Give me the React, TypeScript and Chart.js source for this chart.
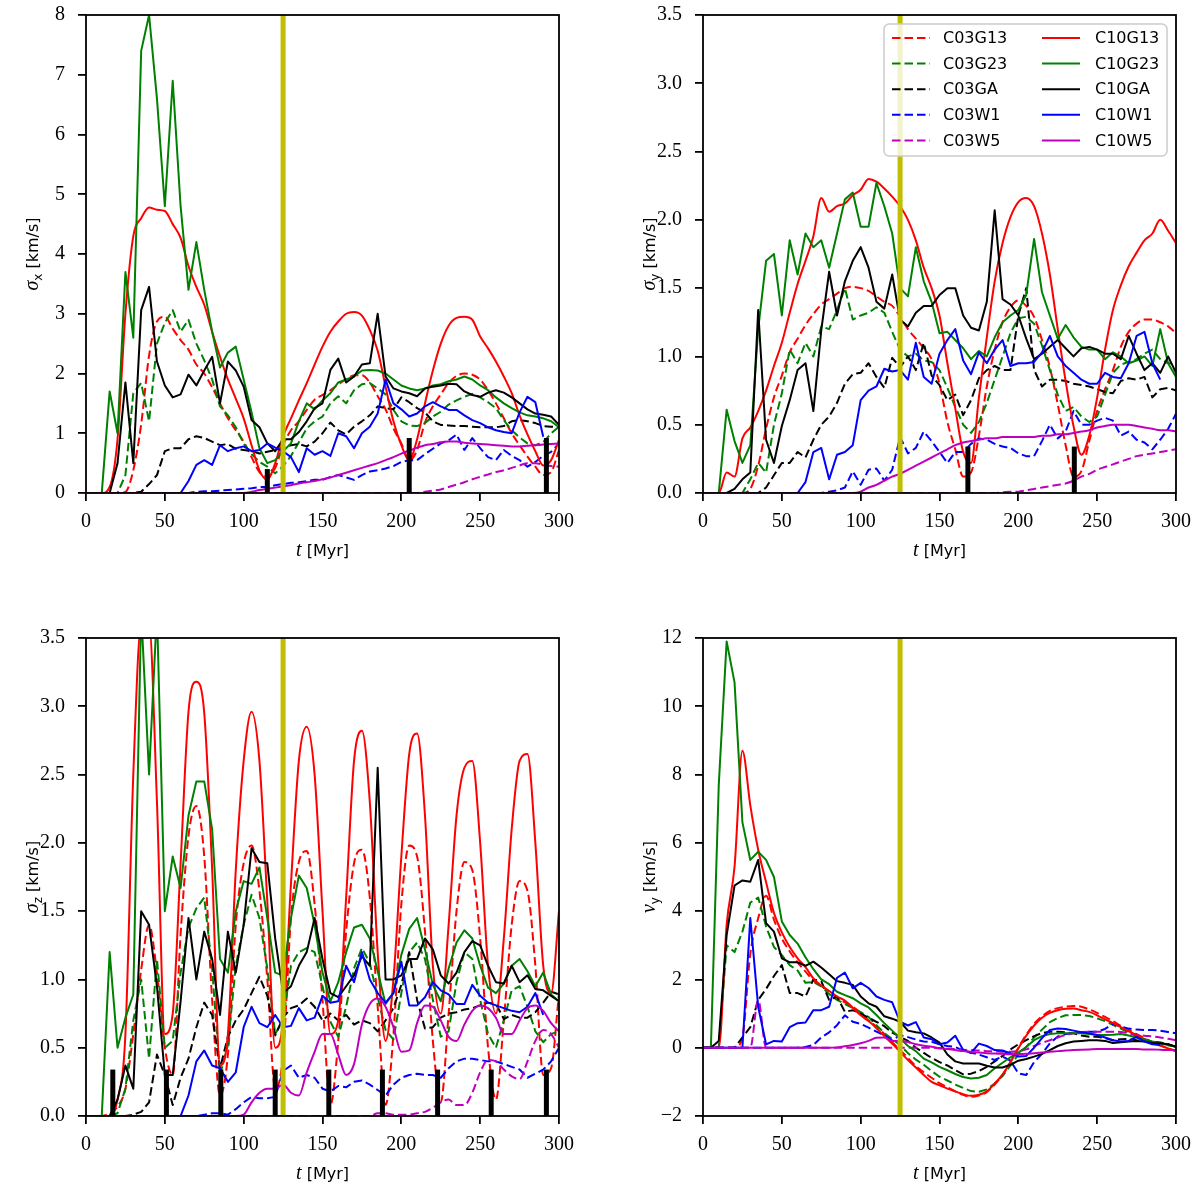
import React, { useEffect, useRef } from 'react';
import { Chart, registerables } from 'chart.js';

Chart.register(...registerables);

document.body.style.margin = '0';

// time grid, Myr
const T = [
  0, 5, 10, 15, 20, 25, 30, 35, 40, 45,
  50, 55, 60, 65, 70, 75, 80, 85, 90, 95,
  100, 105, 110, 115, 120, 125, 130, 135, 140, 145,
  150, 155, 160, 165, 170, 175, 180, 185, 190, 195,
  200, 205, 210, 215, 220, 225, 230, 235, 240, 245,
  250, 255, 260, 265, 270, 275, 280, 285, 290, 295,
  300,
];

const RUNS = ['C03G13', 'C03G23', 'C03GA', 'C03W1', 'C03W5', 'C10G13', 'C10G23', 'C10GA', 'C10W1', 'C10W5'];
const COLORS = ['#ff0000', '#008000', '#000000', '#0000ff', '#bf00bf'];
// runs whose curves are smooth (G13 and W5); the rest are drawn as plain polylines
const SMOOTH = ['C03G13', 'C03W5', 'C10G13', 'C10W5'];
const DASH = [8.5, 4];
const MARK_T = 125;

const SERIF = '"Liberation Serif", "DejaVu Serif", serif';
const SANS = '"DejaVu Sans", sans-serif';

// ---- sigma_x ----
const SX_C03G13 = [
  0, 0, 0, 0, 0, 0.02, 0.38, 1.15, 2.3, 2.87,
  2.95, 2.75, 2.56, 2.4, 2.15, 2.0, 1.77, 1.5, 1.25, 1.05,
  0.86, 0.6, 0.35, 0.27, 0.42, 0.8, 1.05, 1.2, 1.39, 1.56,
  1.64, 1.72, 1.82, 1.9, 1.97, 1.97, 1.85, 1.62, 1.4, 1.08,
  0.83, 0.55, 0.72, 1.18, 1.45, 1.65, 1.84, 1.96, 2.0, 1.98,
  1.9, 1.72, 1.5, 1.25, 1.0, 0.8, 0.61, 0.44, 0.3, 0.35,
  0.72,
];
const SX_C03G23 = [
  0, 0, 0, 0, 0, 0.3, 1.67, 1.84, 1.2, 2.5,
  2.85, 3.06, 2.7, 2.9, 2.5, 2.22, 1.9, 1.45, 1.3, 1.1,
  0.83, 0.65, 0.52, 0.44, 0.33, 0.45, 0.62, 0.85, 1.08, 1.2,
  1.28, 1.5, 1.62, 1.5, 1.72, 1.82, 1.84, 1.75, 1.65, 1.39,
  1.2, 1.13, 1.12, 1.17, 1.28, 1.36, 1.48, 1.55, 1.61, 1.66,
  1.6, 1.52, 1.42, 1.22, 1.05, 0.93, 0.83, 0.8, 0.85, 1.0,
  1.11,
];
const SX_C03GA = [
  0, 0, 0, 0, 0, 0, 0, 0.02, 0.15, 0.3,
  0.7, 0.75, 0.75, 0.9, 0.95, 0.92, 0.86, 0.8, 0.82, 0.74,
  0.72, 0.7, 0.66, 0.69, 0.72, 0.76, 0.8, 0.82, 0.78, 0.86,
  1.0, 1.18, 1.05, 0.98, 1.11, 1.2, 1.3, 1.45, 1.42, 1.4,
  1.6, 1.52, 1.42, 1.35, 1.2, 1.14, 1.13, 1.12, 1.12, 1.11,
  1.1, 1.1, 1.1, 1.12, 1.2, 1.22, 1.2, 1.17, 1.12, 1.11,
  1.11,
];
const SX_C03W1 = [
  0, 0, 0, 0, 0, 0, 0, 0, 0, 0,
  0, 0, 0, 0, 0.02, 0.03, 0.03, 0.04, 0.05, 0.06,
  0.07, 0.08, 0.1, 0.1, 0.13, 0.15, 0.17, 0.18, 0.2, 0.22,
  0.22, 0.27, 0.3, 0.26, 0.22, 0.3, 0.36, 0.38, 0.41, 0.45,
  0.52, 0.55, 0.55, 0.65, 0.74, 0.83, 0.88, 0.98, 0.72, 0.92,
  0.75, 0.6, 0.55, 0.72, 0.62, 0.55, 0.44, 0.52, 0.62, 0.69,
  0.83,
];
const SX_C03W5 = [
  0, 0, 0, 0, 0, 0, 0, 0, 0, 0,
  0, 0, 0, 0, 0, 0, 0, 0, 0, 0,
  0, 0, 0, 0, 0, 0, 0, 0, 0, 0,
  0, 0, 0, 0, 0, 0, 0, 0, 0, 0,
  0, 0, 0, 0.02, 0.04, 0.06, 0.1, 0.14, 0.18, 0.23,
  0.27, 0.31, 0.35, 0.38, 0.42, 0.46, 0.5, 0.5, 0.47, 0.45,
  0.44,
];
const SX_C10G13 = [
  0, 0, 0, 0.1, 0.9, 3.0, 4.3, 4.6, 4.78, 4.74,
  4.72, 4.5, 4.27, 3.8, 3.45, 3.15, 2.7, 2.28, 1.9, 1.58,
  1.25, 0.8, 0.38, 0.22, 0.5, 0.95, 1.25, 1.55, 1.84, 2.15,
  2.45, 2.7, 2.87, 3.0, 3.03, 2.97, 2.73, 2.38, 1.78, 1.2,
  0.8, 0.55, 0.9, 1.5, 2.05, 2.5, 2.8, 2.93, 2.95, 2.9,
  2.62, 2.42, 2.2, 1.95, 1.67, 1.3, 0.98, 0.7, 0.46, 0.55,
  0.89,
];
const SX_C10G23 = [
  0, 0, 0, 1.7, 1.0, 3.7, 2.6, 7.4, 8.0, 6.6,
  4.8, 6.9, 4.8, 3.4, 4.2, 3.4, 2.7, 2.1, 2.35, 2.45,
  1.9, 1.35, 0.75, 0.5, 0.55, 0.7, 0.83, 1.2, 1.5, 1.4,
  1.55, 1.67, 1.85, 1.9, 1.95, 2.05, 2.06, 2.05, 2.0, 1.9,
  1.8, 1.75, 1.72, 1.75, 1.8, 1.82, 1.87, 1.9, 1.95, 1.9,
  1.8, 1.72, 1.6, 1.5, 1.42, 1.35, 1.3, 1.28, 1.25, 1.2,
  1.1,
];
const SX_C10GA = [
  0, 0, 0, 0, 0.5, 1.85, 0.5, 3.06, 3.45, 2.2,
  1.8, 1.6, 1.65, 1.98, 1.8, 2.05, 2.28, 1.5, 2.2, 2.05,
  1.78, 1.22, 1.1, 0.83, 0.7, 0.9, 0.9, 1.02, 1.2, 1.42,
  1.5, 2.06, 2.25, 1.85, 1.95, 2.15, 2.17, 3.0, 1.95, 1.75,
  1.7, 1.67, 1.62, 1.75, 1.78, 1.8, 1.83, 1.82, 1.7, 1.64,
  1.61, 1.68, 1.72, 1.68, 1.6, 1.5, 1.4, 1.33, 1.31, 1.28,
  1.14,
];
const SX_C10W1 = [
  0, 0, 0, 0, 0, 0, 0, 0, 0, 0,
  0, 0, 0, 0.2, 0.47, 0.55, 0.47, 0.8, 0.7, 0.75,
  0.78, 0.7, 0.72, 0.83, 0.76, 0.7, 0.6, 0.35, 0.75, 0.64,
  0.7, 0.62, 1.0, 0.95, 0.75, 1.0, 1.11, 1.33, 1.9, 1.5,
  1.4, 1.28, 1.33, 1.45, 1.52, 1.45, 1.39, 1.39, 1.3, 1.22,
  1.17, 1.1, 1.05, 1.02, 1.0, 1.35, 1.61, 1.52, 0.94, null,
  null,
];
const SX_C10W5 = [
  0, 0, 0, 0, 0, 0, 0, 0, 0, 0,
  0, 0, 0, 0, 0, 0, 0, 0, 0, 0,
  0, 0.02, 0.05, 0.07, 0.09, 0.11, 0.13, 0.16, 0.18, 0.2,
  0.23, 0.26, 0.3, 0.34, 0.38, 0.42, 0.46, 0.5, 0.55, 0.6,
  0.66, 0.71, 0.76, 0.8, 0.82, 0.85, 0.86, 0.86, 0.84, 0.83,
  0.82, 0.81, 0.8, 0.79, 0.78, 0.78, 0.79, 0.8, 0.81, 0.82,
  0.83,
];

// ---- sigma_y ----
const SY_C03G13 = [
  0, 0, 0, 0, 0, 0, 0.03, 0.2, 0.47, 0.7,
  0.86, 1.03, 1.13, 1.23, 1.31, 1.38, 1.42, 1.46, 1.5, 1.51,
  1.5, 1.48, 1.44, 1.4, 1.37, 1.29, 1.2, 1.13, 1.06, 0.98,
  0.8, 0.52, 0.32, 0.12, 0.15, 0.42, 0.78, 1.05, 1.25, 1.36,
  1.41, 1.37, 1.29, 1.12, 0.92, 0.65, 0.35, 0.12, 0.16, 0.38,
  0.6, 0.76, 0.9, 1.07, 1.18, 1.24, 1.27, 1.27, 1.25, 1.22,
  1.17,
];
const SY_C03G23 = [
  0, 0, 0, 0, 0, 0, 0.1, 0.22, 0.15, 0.5,
  0.73, 1.05, 0.95, 1.1, 1.0, 1.22, 1.2, 1.34, 1.5, 1.27,
  1.3, 1.32, 1.36, 1.32, 1.18, 1.05, 1.0, 1.02, 0.97, 0.96,
  0.9, 0.77, 0.63, 0.5, 0.44, 0.52, 0.66, 0.83, 1.0, 1.17,
  1.28, 1.29, 1.24, 1.08, 0.9, 0.72, 0.6, 0.63, 0.56, 0.52,
  0.56, 0.72, 0.88, 0.94, 0.96, 0.98, 1.02, 1.05, 0.98, 0.95,
  0.95,
];
const SY_C03GA = [
  0, 0, 0, 0, 0, 0, 0, 0, 0.04, 0.13,
  0.22, 0.22, 0.3, 0.26, 0.39, 0.5, 0.56, 0.66, 0.8, 0.87,
  0.88, 0.95, 0.85, 0.77, 0.99, 0.92, 1.0, 0.9, 1.1, 0.86,
  0.79, 0.68, 0.72, 0.57, 0.68, 0.84, 0.9, 0.93, 0.9, 0.9,
  1.3, 1.5, 0.9, 0.78, 0.83, 0.83, 0.82, 0.8, 0.79, 0.78,
  0.76, 0.74, 0.73, 0.82, 0.84, 0.83, 0.85, 0.7, 0.76, 0.77,
  0.75,
];
const SY_C03W1 = [
  0, 0, 0, 0, 0, 0, 0, 0, 0, 0,
  0, 0, 0, 0, 0, 0, 0.01, 0.02, 0.04, 0.16,
  0.06, 0.17, 0.18, 0.09, 0.17, 0.41, 0.29, 0.33, 0.45, 0.38,
  0.3, 0.22, 0.3, 0.3, 0.36, 0.4, 0.39, 0.36, 0.34, 0.33,
  0.29, 0.27, 0.27, 0.38, 0.5, 0.4, 0.45, 0.6, 0.5, 0.5,
  0.53, 0.55, 0.53, 0.42, 0.45, 0.39, 0.37, 0.32, 0.39, 0.47,
  0.58,
];
const SY_C03W5 = [
  0, 0, 0, 0, 0, 0, 0, 0, 0, 0,
  0, 0, 0, 0, 0, 0, 0, 0, 0, 0,
  0, 0, 0, 0, 0, 0, 0, 0, 0, 0,
  0, 0, 0, 0, 0, 0, 0, 0, 0.005, 0.01,
  0.01, 0.02, 0.03, 0.04, 0.05, 0.06, 0.07, 0.09, 0.12, 0.14,
  0.17, 0.19, 0.21, 0.23, 0.25, 0.27, 0.28, 0.29, 0.3, 0.31,
  0.32,
];
const SY_C10G13 = [
  0, 0, 0, 0.15, 0.12, 0.4, 0.48, 0.6, 0.75, 0.93,
  1.1, 1.32, 1.53, 1.7, 1.88, 2.16, 2.06, 2.1, 2.12, 2.18,
  2.22, 2.3, 2.28, 2.23, 2.17, 2.1, 2.0, 1.85, 1.65, 1.5,
  1.3, 0.95, 0.62, 0.3, 0.22, 0.7, 1.14, 1.55, 1.83, 2.02,
  2.13, 2.16, 2.1, 1.9, 1.6, 1.2, 0.82, 0.49, 0.28, 0.42,
  0.7, 1.05, 1.34, 1.52, 1.66, 1.76, 1.85, 1.9, 2.0, 1.92,
  1.83,
];
const SY_C10G23 = [
  0, 0, 0, 0.61, 0.38, 0.22, 0.35, 1.2, 1.7, 1.75,
  1.3, 1.85, 1.6, 1.9, 1.8, 1.85, 1.65, 1.9, 2.15, 2.2,
  1.95, 1.95, 2.27, 2.1, 1.9, 1.5, 1.44, 1.8, 1.55, 1.4,
  1.17, 1.18, 1.12, 1.06, 0.98, 1.04, 1.0, 1.14, 1.25, 1.3,
  1.34, 1.45, 1.86, 1.47, 1.3, 1.13, 1.23, 1.14, 1.07, 1.05,
  1.05, 0.98, 1.03, 1.0, 0.95, 0.97, 1.0, 0.93, 1.2, 0.95,
  0.85,
];
const SY_C10GA = [
  0, 0, 0, 0, 0.03, 0.1, 0.15, 1.34, 0.39, 0.22,
  0.49, 0.68, 0.9, 0.95, 0.6, 1.19, 1.62, 1.3, 1.55, 1.7,
  1.8, 1.65, 1.4, 1.35, 1.6, 1.27, 1.22, 1.32, 1.37, 1.37,
  1.45, 1.5, 1.5, 1.3, 1.21, 1.19, 1.4, 2.07, 1.42, 1.38,
  1.3, 1.13, 0.98, 1.02, 1.07, 1.12, 1.06, 1.0, 1.06, 1.07,
  1.05, 1.02, 1.02, 0.98, 1.15, 1.02, 0.9, 0.95, 0.88, 1.0,
  0.88,
];
const SY_C10W1 = [
  0, 0, 0, 0, 0, 0, 0, 0, 0, 0,
  0, 0, 0, 0.08, 0.3, 0.33, 0.1, 0.28, 0.3, 0.35,
  0.68, 0.75, 0.78, 0.91, 0.89, 0.9, 0.83, 1.1, 0.85, 0.8,
  1.02, 1.12, 1.2, 0.97, 0.87, 1.03, 0.95, 1.05, 1.12, 0.93,
  0.95, 0.95, 0.96, 1.03, 1.15, 1.0, 0.93, 0.88, 0.83, 0.8,
  0.8, 0.88, 0.85, 0.84, 0.95, 1.15, 1.18, 0.95, 0.83, null,
  null,
];
const SY_C10W5 = [
  0, 0, 0, 0, 0, 0, 0, 0, 0, 0,
  0, 0, 0, 0, 0, 0, 0, 0, 0, 0,
  0.01, 0.04, 0.06, 0.09, 0.12, 0.14, 0.17, 0.2, 0.23, 0.26,
  0.29, 0.32, 0.35, 0.37, 0.38, 0.39, 0.4, 0.4, 0.41, 0.41,
  0.41, 0.41, 0.41, 0.42, 0.42, 0.43, 0.43, 0.44, 0.45, 0.46,
  0.48, 0.49, 0.5, 0.5, 0.5, 0.49, 0.48, 0.47, 0.46, 0.46,
  0.45,
];

// ---- sigma_z ----
const SZ_C03G13 = [
  0, 0, 0, 0.02, 0.07, 0.2, 0.6, 1.07, 1.4, 1.05,
  0.5, 0.3, 1.33, 2.05, 2.27, 1.9, 0.85, 0.15, 0.45, 1.4,
  1.85, 1.98, 1.65, 1.0, 0.2, 0.45, 1.45, 1.86, 1.94, 1.55,
  0.85, 0.08, 0.55, 1.35, 1.85, 1.95, 1.6, 0.8, 0.08, 0.6,
  1.55, 1.98, 1.9, 1.35, 0.55, 0.1, 0.75, 1.5, 1.86, 1.8,
  1.3, 0.5, 0.12, 0.7, 1.4, 1.72, 1.65, 1.1, 0.3, 0.35,
  0.9,
];
const SZ_C03G23 = [
  0, 0, 0, 0, 0.02, 0.2, 0.7, 1.0, 0.42, 1.15,
  0.5, 0.55, 1.05, 1.38, 1.52, 1.6, 1.08, 0.3, 0.52, 1.1,
  1.4, 1.62, 1.45, 1.08, 0.6, 0.7, 1.1, 1.2, 1.23, 1.2,
  0.95, 0.69, 0.58, 0.8, 1.08, 1.23, 1.12, 0.87, 0.63, 0.56,
  0.9, 1.2, 1.27, 1.15, 0.85, 0.58, 0.62, 0.98, 1.2, 1.15,
  0.85, 0.6, 0.5, 0.7, 0.92, 0.95, 0.8, 0.62, 0.54, 0.6,
  0.62,
];
const SZ_C03GA = [
  0, 0, 0, 0, 0, 0, 0.01, 0.03, 0.1, 0.45,
  0.3, 0.08, 0.28, 0.42, 0.65, 0.83, 0.74, 0.35, 0.58, 0.7,
  0.78, 0.9, 1.02, 0.88, 0.59, 0.72, 0.79, 0.81, 0.86, 0.8,
  0.7, 0.75, 0.7, 0.74, 0.67, 0.7, 0.68, 0.62, 0.7, 0.79,
  0.96, 1.2, 0.85, 0.64, 0.65, 0.72, 0.75, 0.76, 0.78, 0.79,
  0.81, 0.83, 0.82, 0.71, 0.74, 0.72, 0.72, 0.76, 0.83, 0.91,
  0.89,
];
const SZ_C03W1 = [
  0, 0, 0, 0, 0, 0, 0, 0, 0, 0,
  0, 0, 0, 0, 0, 0.01, 0.02, 0.02, 0.01, 0.05,
  0.1, 0.14, 0.13, 0.13, 0.14, 0.33, 0.37, 0.28, 0.3, 0.28,
  0.2, 0.18, 0.22, 0.21, 0.25, 0.26, 0.23, 0.19, 0.15, 0.23,
  0.28, 0.3, 0.31, 0.3, 0.3, 0.28, 0.35, 0.4, 0.42, 0.42,
  0.41, 0.4, 0.4, 0.38, 0.36, 0.34, 0.28, 0.31, 0.34, 0.4,
  0.5,
];
const SZ_C03W5 = [
  0, 0, 0, 0, 0, 0, 0, 0, 0, 0,
  0, 0, 0, 0, 0, 0, 0, 0, 0, 0,
  0, 0, 0, 0, 0, 0, 0, 0, 0, 0,
  0, 0, 0, 0, 0, 0, 0, 0.02, 0.02, 0.01,
  0.01, 0.01, 0.02, 0.03, 0.06, 0.1, 0.12, 0.08, 0.08, 0.17,
  0.32, 0.41, 0.4, 0.34, 0.29, 0.27, 0.4, 0.55, 0.63, 0.6,
  0.5,
];
const SZ_C10G13 = [
  0, 0, 0, 0, 0.12, 0.6, 2.5, 3.6, 3.6, 2.3,
  0.6, 0.75, 1.85, 2.96, 3.18, 2.95, 1.81, 0.37, 0.6, 1.8,
  2.6, 2.96, 2.6, 1.57, 0.5, 0.7, 1.7, 2.6, 2.85, 2.5,
  1.5, 0.6, 0.7, 1.6, 2.6, 2.82, 2.3, 1.2, 0.55, 1.0,
  1.9, 2.65, 2.8, 2.2, 1.1, 0.75, 1.4, 2.2, 2.55, 2.6,
  2.0, 1.1, 0.75, 1.3, 2.1, 2.6, 2.65, 2.0, 1.1, 0.9,
  1.5,
];
const SZ_C10G23 = [
  0, 0, 0, 1.2, 0.5, 0.72, 0.89, 3.7, 2.5, 3.7,
  1.5, 1.9, 1.67, 2.2, 2.45, 2.45, 2.1, 1.15, 1.05, 1.5,
  1.72, 1.7, 1.82, 1.45, 1.05, 1.03, 1.45, 1.76, 1.67, 1.4,
  1.05, 0.84, 0.98, 1.2, 1.38, 1.4, 1.3, 1.06, 0.82, 0.9,
  1.18, 1.37, 1.45, 1.22, 0.96, 0.84, 1.08, 1.27, 1.36, 1.3,
  1.1, 0.94, 0.9, 0.97, 1.1, 1.15, 1.06, 0.95, 1.05, 0.89,
  0.84,
];
const SZ_C10GA = [
  0, 0, 0, 0, 0.12, 0.37, 0.2, 1.5, 1.4, 0.95,
  0.3, 0.3, 0.84, 1.45, 1.0, 1.35, 1.15, 0.74, 1.35, 1.05,
  1.4, 1.96, 1.86, 1.85, 1.3, 0.9, 0.95, 1.1, 1.2, 1.45,
  1.15, 0.9, 0.87, 0.95, 1.03, 1.17, 1.1, 2.55, 1.0, 1.0,
  1.03, 1.15, 1.15, 1.3, 1.22, 1.03, 0.97, 1.05, 1.2, 1.28,
  1.25, 1.1, 0.98, 0.97, 1.1, 0.98, 1.03, 0.93, 0.92, 0.88,
  0.84,
];
const SZ_C10W1 = [
  0, 0, 0, 0, 0, 0, 0, 0, 0, 0,
  0, 0, 0, 0.15, 0.4, 0.48, 0.37, 0.35, 0.25, 0.32,
  0.65, 0.8, 0.68, 0.65, 0.74, 0.65, 0.66, 0.79, 0.7, 0.72,
  0.88, 0.83, 0.84, 1.1, 0.98, 1.2, 1.0, 0.9, 0.83, 0.9,
  1.13, 0.81, 0.81, 0.87, 0.98, 0.92, 0.89, 0.82, 0.82, 0.96,
  0.88, 0.83, 0.81, 0.79, 0.77, 0.76, 0.8, 0.9, 0.74, null,
  null,
];
const SZ_C10W5 = [
  0, 0, 0, 0, 0, 0, 0, 0, 0, 0,
  0, 0, 0, 0, 0, 0, 0, 0, 0, 0,
  0.01, 0.1, 0.17, 0.2, 0.2, 0.23, 0.17, 0.15, 0.32, 0.47,
  0.6, 0.6, 0.45, 0.3, 0.38, 0.67, 0.82, 0.86, 0.8, 0.65,
  0.47, 0.48, 0.68, 0.81, 0.8, 0.7, 0.58, 0.55, 0.67, 0.77,
  0.81, 0.79, 0.72, 0.6, 0.6, 0.7, 0.79, 0.81, 0.77, 0.68,
  0.62,
];

// ---- v_y ----
const VY_C03G13 = [
  0, 0, 0, 0, 0, 0.3, 2.75, 3.79, 4.45, 3.75,
  3.2, 2.82, 2.5, 2.23, 1.97, 1.8, 1.66, 1.45, 1.33, 1.2,
  1.02, 0.8, 0.62, 0.4, 0.16, -0.07, -0.3, -0.54, -0.72, -0.88,
  -1.04, -1.16, -1.28, -1.38, -1.44, -1.4, -1.3, -1.08, -0.8, -0.42,
  0.0, 0.38, 0.7, 0.92, 1.08, 1.16, 1.2, 1.22, 1.2, 1.12,
  1.02, 0.9, 0.78, 0.64, 0.52, 0.4, 0.28, 0.16, 0.07, -0.02,
  -0.1,
];
const VY_C03G23 = [
  0, 0, 0, 3.0, 2.8, 3.4, 4.25, 4.4, 3.55, 2.95,
  2.71, 2.42, 2.26, 1.9, 1.93, 1.8, 1.57, 1.4, 1.28, 1.16,
  1.04, 0.9, 0.66, 0.43, 0.25, 0.08, -0.16, -0.35, -0.5, -0.68,
  -0.85, -0.96, -1.08, -1.18, -1.27, -1.29, -1.22, -1.05, -0.83, -0.52,
  -0.2, 0.02, 0.3, 0.53, 0.75, 0.87, 0.95, 0.96, 0.96, 0.93,
  0.86, 0.78, 0.67, 0.56, 0.44, 0.34, 0.25, 0.18, 0.13, 0.07,
  0.03,
];
const VY_C03GA = [
  0, 0, 0, 0, 0, 0.3, 0.6, 1.4, 1.72, 2.1,
  2.42, 1.6, 1.6, 1.5, 2.0, 1.95, 1.4, 1.5, 1.05, 1.1,
  1.0, 0.88, 0.76, 0.63, 0.44, 0.32, 0.2, 0.0, -0.15, -0.3,
  -0.42, -0.52, -0.66, -0.78, -0.76, -0.68, -0.56, -0.4, -0.24, -0.05,
  0.1, 0.22, 0.34, 0.43, 0.47, 0.47, 0.45, 0.42, 0.36, 0.32,
  0.32, 0.28, 0.22, 0.25, 0.26, 0.22, 0.2, 0.18, 0.15, 0.1,
  0.03,
];
const VY_C03W1 = [
  0, 0, 0, 0, 0, 0, 0, 0, 0, 0,
  0, 0, 0, 0.02, 0.08, 0.3, 0.45, 0.66, 0.95, 0.76,
  0.7, 0.59, 0.47, 0.36, 0.22, 0.37, 0.31, 0.24, 0.18, 0.17,
  0.1, 0.05, 0.02, -0.08, -0.15, -0.2, -0.28, -0.36, -0.26, -0.38,
  -0.75, -0.8, -0.42, -0.18, 0.13, 0.33, 0.4, 0.42, 0.45, 0.47,
  0.47, 0.55, 0.7, 0.62, 0.56, 0.53, 0.52, 0.52, 0.5, 0.46,
  0.42,
];
const VY_C03W5 = [
  0, 0, 0, 0, 0, 0, 0, 1.4, 0, 0,
  0, 0, 0, 0, 0, 0, 0, 0, 0, 0,
  0, 0, 0, 0, 0, 0, 0, 0, 0, 0,
  -0.02, -0.03, -0.04, -0.06, -0.07, -0.08, -0.1, -0.11, -0.12, -0.12,
  -0.1, -0.05, 0.05, 0.14, 0.22, 0.3, 0.37, 0.42, 0.46, 0.47,
  0.47, 0.47, 0.47, 0.46, 0.42, 0.38, 0.35, 0.33, 0.3, 0.26,
  0.22,
];
const VY_C10G13 = [
  0, 0, 0, 3.6, 5.3, 8.7, 7.1, 5.8, 4.85, 3.95,
  3.38, 2.95, 2.62, 2.36, 2.03, 1.82, 1.66, 1.5, 1.38, 1.17,
  0.95, 0.78, 0.57, 0.34, 0.12, -0.12, -0.36, -0.58, -0.8, -1.0,
  -1.1, -1.2, -1.28, -1.36, -1.41, -1.38, -1.28, -1.05, -0.78, -0.42,
  -0.02, 0.35, 0.65, 0.88, 1.02, 1.1, 1.14, 1.15, 1.1, 1.05,
  0.95, 0.83, 0.72, 0.6, 0.48, 0.37, 0.25, 0.14, 0.06, -0.02,
  -0.1,
];
const VY_C10G23 = [
  0, 0, 7.7, 11.9, 10.7, 6.6, 5.5, 5.74, 5.5, 5.0,
  3.7, 3.3, 3.05, 2.65, 2.3, 2.0, 1.86, 1.64, 1.54, 1.45,
  1.3, 1.18, 0.96, 0.72, 0.5, 0.28, 0.05, -0.1, -0.32, -0.43,
  -0.56, -0.66, -0.77, -0.86, -0.9, -0.88, -0.8, -0.6, -0.44, -0.28,
  -0.14, 0.02, 0.22, 0.34, 0.4, 0.42, 0.42, 0.42, 0.42, 0.4,
  0.37, 0.37, 0.38, 0.4, 0.36, 0.3, 0.24, 0.18, 0.13, 0.08,
  0.03,
];
const VY_C10GA = [
  0, 0, 0.2, 3.3, 4.75, 4.9, 4.86, 5.5, 3.65, 3.4,
  2.62, 2.5, 2.5, 2.4, 2.52, 2.35, 2.15, 1.95, 1.9, 1.84,
  1.5, 1.3, 1.2, 0.92, 0.85, 0.76, 0.5, 0.45, 0.42, 0.3,
  0.15, -0.2, -0.4, -0.46, -0.46, -0.46, -0.53, -0.58, -0.58, -0.5,
  -0.38, -0.33, -0.26, -0.18, -0.07, 0.05, 0.13, 0.18, 0.2, 0.22,
  0.22, 0.2, 0.14, 0.16, 0.18, 0.2, 0.18, 0.14, 0.13, 0.1,
  0.03,
];
const VY_C10W1 = [
  0, 0, 0, 0, 0, 0, 3.8, 1.2, 0.1, 0.2,
  0.18, 0.6, 0.72, 0.74, 1.1, 1.1, 1.2, 2.05, 2.2, 1.74,
  1.9, 1.75, 1.5, 1.4, 1.33, 0.76, 0.65, 0.75, 0.3, 0.25,
  0.1, 0.15, 0.35, -0.07, -0.15, 0.12, 0.05, -0.07, -0.08, -0.17,
  -0.26, -0.24, 0.0, 0.28, 0.52, 0.56, 0.55, 0.5, 0.45, 0.42,
  0.37, 0.3, 0.22, 0.18, 0.2, 0.32, 0.18, 0.1, 0.08, null,
  null,
];
const VY_C10W5 = [
  0, 0, 0, 0, 0, 0, 0, 0, 0, 0,
  0, 0, 0, 0, 0, 0, 0, 0.01, 0.04, 0.08,
  0.13, 0.2, 0.29, 0.3, 0.2, 0.2, 0.17, 0.1, 0.06, 0.03,
  -0.01, -0.04, -0.07, -0.1, -0.12, -0.14, -0.16, -0.17, -0.18, -0.19,
  -0.19, -0.18, -0.16, -0.14, -0.12, -0.1, -0.08, -0.07, -0.06, -0.05,
  -0.04, -0.04, -0.04, -0.04, -0.04, -0.04, -0.05, -0.05, -0.06, -0.07,
  -0.07,
];

// pericentre markers (time, height)
const BARS_SX = [115, 205, 292];
const BAR_H_SX = [0.4, 0.92, 0.92];
const BARS_SY = [168, 235.5];
const BAR_H_SY = [0.34, 0.34];
const BARS_SZ = [17, 51, 85.5, 120, 154, 188, 223, 257, 292];
const BAR_H_SZ = [0.34, 0.34, 0.34, 0.34, 0.34, 0.34, 0.34, 0.34, 0.34];

type Panel = {
  key: string;
  left: number;
  top: number;
  yw: number;
  padR: number;
  padT: number;
  xh: number;
  yMin: number;
  yMax: number;
  yStep: number;
  fmt: (v: number) => string;
  sym: string;
  sub: string;
  series: (number | null)[][];
  bars: number[];
  barH: number[];
  legend: boolean;
  smoothAll: boolean;
};

const PANELS: Panel[] = [
  {
    key: 'sx', left: 0, top: 0, yw: 86, padR: 41, padT: 15, xh: 102,
    yMin: 0, yMax: 8, yStep: 1, fmt: (v) => String(v), sym: 'σ', sub: 'x',
    series: [SX_C03G13, SX_C03G23, SX_C03GA, SX_C03W1, SX_C03W5, SX_C10G13, SX_C10G23, SX_C10GA, SX_C10W1, SX_C10W5],
    bars: BARS_SX, barH: BAR_H_SX, legend: false, smoothAll: false,
  },
  {
    key: 'sy', left: 600, top: 0, yw: 103, padR: 24, padT: 15, xh: 102,
    yMin: 0, yMax: 3.5, yStep: 0.5, fmt: (v) => v.toFixed(1), sym: 'σ', sub: 'y',
    series: [SY_C03G13, SY_C03G23, SY_C03GA, SY_C03W1, SY_C03W5, SY_C10G13, SY_C10G23, SY_C10GA, SY_C10W1, SY_C10W5],
    bars: BARS_SY, barH: BAR_H_SY, legend: true, smoothAll: false,
  },
  {
    key: 'sz', left: 0, top: 595, yw: 86, padR: 41, padT: 43, xh: 74,
    yMin: 0, yMax: 3.5, yStep: 0.5, fmt: (v) => v.toFixed(1), sym: 'σ', sub: 'z',
    series: [SZ_C03G13, SZ_C03G23, SZ_C03GA, SZ_C03W1, SZ_C03W5, SZ_C10G13, SZ_C10G23, SZ_C10GA, SZ_C10W1, SZ_C10W5],
    bars: BARS_SZ, barH: BAR_H_SZ, legend: false, smoothAll: false,
  },
  {
    key: 'vy', left: 600, top: 595, yw: 103, padR: 24, padT: 43, xh: 74,
    yMin: -2, yMax: 12, yStep: 2, fmt: (v) => (v < 0 ? '\u2212' + Math.abs(v) : String(v)), sym: 'v', sub: 'y',
    series: [VY_C03G13, VY_C03G23, VY_C03GA, VY_C03W1, VY_C03W5, VY_C10G13, VY_C10G23, VY_C10GA, VY_C10W1, VY_C10W5],
    bars: [], barH: [], legend: false, smoothAll: false,
  },
];

type Part = { text: string; font: string; dy?: number };

function drawParts(ctx: CanvasRenderingContext2D, parts: Part[], cx: number, baseline: number) {
  let total = 0;
  parts.forEach((p) => {
    ctx.font = p.font;
    total += ctx.measureText(p.text).width;
  });
  let x = cx - total / 2;
  ctx.textAlign = 'left';
  ctx.textBaseline = 'alphabetic';
  parts.forEach((p) => {
    ctx.font = p.font;
    ctx.fillText(p.text, x, baseline + (p.dy || 0));
    x += ctx.measureText(p.text).width;
  });
}

function decor(p: Panel) {
  return {
    id: 'decor_' + p.key,
    afterDatasetsDraw(chart: any) {
      const { ctx, chartArea: a, scales } = chart;
      ctx.save();
      ctx.lineCap = 'butt';
      const vx = scales.x.getPixelForValue(MARK_T);
      ctx.strokeStyle = '#bfbf00';
      ctx.lineWidth = 5;
      ctx.beginPath();
      ctx.moveTo(vx, a.top);
      ctx.lineTo(vx, a.bottom);
      ctx.stroke();

      ctx.strokeStyle = '#000';
      ctx.lineWidth = 5;
      p.bars.forEach((t, i) => {
        const bx = scales.x.getPixelForValue(t);
        ctx.beginPath();
        ctx.moveTo(bx, scales.y.getPixelForValue(0));
        ctx.lineTo(bx, scales.y.getPixelForValue(p.barH[i]));
        ctx.stroke();
      });

      ctx.lineWidth = 1.8;
      ctx.strokeRect(a.left, a.top, a.right - a.left, a.bottom - a.top);
      ctx.restore();
    },
    afterDraw(chart: any) {
      const { ctx, chartArea: a } = chart;
      ctx.save();
      ctx.fillStyle = '#000';
      drawParts(ctx, [
        { text: 't', font: `italic 20px ${SERIF}` },
        { text: ' [Myr]', font: `16px ${SANS}` },
      ], (a.left + a.right) / 2, a.bottom + 63);

      ctx.save();
      ctx.translate(a.left - 48, (a.top + a.bottom) / 2);
      ctx.rotate(-Math.PI / 2);
      drawParts(ctx, [
        { text: p.sym, font: `italic 20px ${SERIF}` },
        { text: p.sub, font: `12px ${SANS}`, dy: 4 },
        { text: ' [km/s]', font: `16px ${SANS}` },
      ], 0, 0);
      ctx.restore();

      if (p.legend) {
        const bw = 283;
        const bh = 132;
        const bx = a.right - 9 - bw;
        const by = a.top + 9;
        ctx.fillStyle = 'rgba(255,255,255,0.8)';
        ctx.strokeStyle = '#cccccc';
        ctx.lineWidth = 1.5;
        ctx.beginPath();
        ctx.roundRect(bx, by, bw, bh, 5);
        ctx.fill();
        ctx.stroke();
        ctx.font = `16px ${SANS}`;
        ctx.textBaseline = 'middle';
        ctx.textAlign = 'left';
        RUNS.forEach((name, i) => {
          const col = i < 5 ? 0 : 1;
          const row = i % 5;
          const y = by + 14 + row * 25.6;
          const lx = bx + (col === 0 ? 8 : 158);
          ctx.strokeStyle = COLORS[i % 5];
          ctx.lineWidth = 2;
          ctx.setLineDash(col === 0 ? DASH : []);
          ctx.beginPath();
          ctx.moveTo(lx, y);
          ctx.lineTo(lx + 38, y);
          ctx.stroke();
          ctx.setLineDash([]);
          ctx.fillStyle = '#000';
          ctx.fillText(name, bx + (col === 0 ? 59 : 211), y + 1);
        });
      }
      ctx.restore();
    },
  };
}

function buildConfig(p: Panel): any {
  const datasets = p.series.map((vals, i) => {
    const smooth = p.smoothAll || SMOOTH.includes(RUNS[i]);
    return {
      label: RUNS[i],
      data: T.map((t, j) => ({ x: t, y: vals[j] })),
      borderColor: COLORS[i % 5],
      backgroundColor: COLORS[i % 5],
      borderWidth: 2,
      borderDash: i < 5 ? DASH : [],
      borderJoinStyle: 'round',
      pointRadius: 0,
      cubicInterpolationMode: smooth ? 'monotone' : 'default',
      tension: 0,
      fill: false,
      order: RUNS.length - i,
    };
  });
  const tickGrid = {
    drawOnChartArea: false,
    drawTicks: true,
    tickLength: 8,
    color: '#000',
    lineWidth: 1.8,
  };
  return {
    type: 'line',
    data: { datasets },
    options: {
      animation: false,
      responsive: true,
      maintainAspectRatio: false,
      events: [],
      layout: { padding: { left: 0, right: p.padR, top: p.padT, bottom: 0 } },
      scales: {
        x: {
          type: 'linear',
          min: 0,
          max: 300,
          ticks: {
            stepSize: 50,
            color: '#000',
            font: { family: SERIF, size: 20 },
            padding: 9,
            maxRotation: 0,
            autoSkip: false,
          },
          grid: tickGrid,
          border: { display: false },
          afterFit: (s: any) => {
            s.height = p.xh;
            s.paddingLeft = 0;
            s.paddingRight = 0;
          },
        },
        y: {
          type: 'linear',
          min: p.yMin,
          max: p.yMax,
          ticks: {
            stepSize: p.yStep,
            color: '#000',
            font: { family: SERIF, size: 20 },
            padding: 13,
            callback: (v: number) => p.fmt(v),
          },
          grid: tickGrid,
          border: { display: false },
          afterFit: (s: any) => {
            s.width = p.yw;
            s.paddingTop = 0;
            s.paddingBottom = 0;
          },
        },
      },
      plugins: {
        legend: { display: false },
        tooltip: { enabled: false },
      },
    },
    plugins: [decor(p)],
  };
}

function PanelChart({ p }: { p: Panel }) {
  const canvasRef = useRef<HTMLCanvasElement>(null);
  useEffect(() => {
    if (!canvasRef.current) return;
    const chart = new Chart(canvasRef.current, buildConfig(p));
    return () => chart.destroy();
  }, [p]);
  return (
    <div style={{ position: 'absolute', left: p.left, top: p.top, width: 600, height: 595 }}>
      <canvas ref={canvasRef} />
    </div>
  );
}

export default function App() {
  return (
    <div style={{ position: 'relative', width: 1200, height: 1190, background: '#fff' }}>
      {PANELS.map((p) => (
        <PanelChart key={p.key} p={p} />
      ))}
    </div>
  );
}
